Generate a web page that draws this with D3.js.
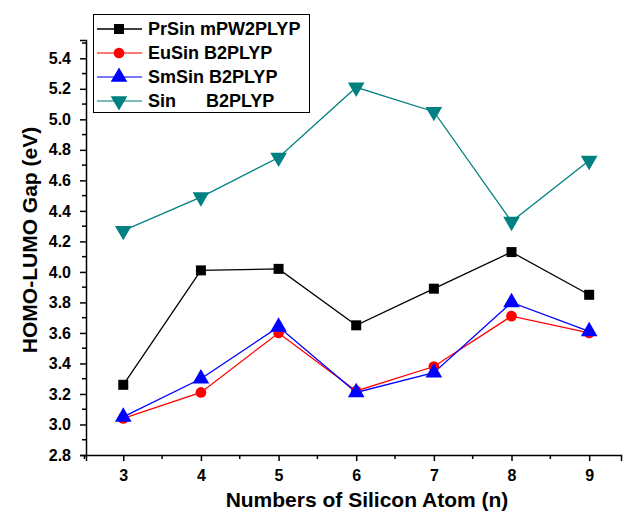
<!DOCTYPE html>
<html><head><meta charset="utf-8">
<script src="https://cdn.jsdelivr.net/npm/d3@7"></script>
<style>body{margin:0;background:#fff}svg{display:block}text{font-family:"Liberation Sans",Arial,sans-serif;font-weight:bold}</style>
</head><body><svg id="c" width="624" height="516"></svg>
<script>
const atoms = [3,4,5,6,7,8,9];
const prSin = [3.26,4.01,4.02,3.65,3.89,4.13,3.85];
const euSin = [3.04,3.21,3.60,3.22,3.38,3.71,3.60];
const smSin = [3.05,3.30,3.64,3.21,3.34,3.80,3.61];
const sin   = [4.27,4.49,4.75,5.21,5.05,4.33,4.73];
const yTicks = [2.8,3.0,3.2,3.4,3.6,3.8,4.0,4.2,4.4,4.6,4.8,5.0,5.2,5.4];
const seriesNames = ["PrSin mPW2PLYP","EuSin B2PLYP","SmSin B2PLYP","Sin      B2PLYP"];
const colors = ["#000000","#ff0000","#0000ff","#008080"];
const symbols = [d3.symbolSquare,d3.symbolCircle,d3.symbolTriangle,d3.symbolTriangle];
const series = [prSin,euSin,smSin,sin];

const svg = d3.select("#c");
const L=86, R=621, T=40, B=455;
const x = d3.scaleLinear().domain([2.52,9.41]).range([L,R]);
const y = d3.scaleLinear().domain([2.8,5.52]).range([B,T]);

// axes
const xAxis = d3.axisBottom(x).tickValues(atoms).tickSize(6).tickPadding(5).tickFormat(d3.format("d"));
const gx = svg.append("g").attr("transform",`translate(0,${B})`).call(xAxis);
gx.select(".domain").attr("stroke-width",1.5);
gx.selectAll("text").attr("font-size",16).attr("dy","0.9em").attr("y",12);
gx.selectAll("line").attr("stroke-width",1.5);
const xMinor=[2.5,3.5,4.5,5.5,6.5,7.5,8.5];
svg.append("g").selectAll("line").data(xMinor).join("line")
  .attr("x1",d=>x(d)).attr("x2",d=>x(d)).attr("y1",B).attr("y2",B+4).attr("stroke","#000").attr("stroke-width",1.5);

const yAxis = d3.axisLeft(y).tickValues(yTicks).tickSize(6).tickPadding(9).tickFormat(d3.format(".1f"));
const gy = svg.append("g").attr("transform",`translate(${L},0)`).call(yAxis);
gy.select(".domain").attr("stroke-width",1.5);
gy.selectAll("text").attr("font-size",16);
gy.selectAll("line").attr("stroke-width",1.5);
const yMinor = yTicks.map(v=>+(v+0.1).toFixed(1));
svg.append("g").selectAll("line").data(yMinor).join("line")
  .attr("x1",L-4).attr("x2",L).attr("y1",d=>y(d)).attr("y2",d=>y(d)).attr("stroke","#000").attr("stroke-width",1.5);

// titles
svg.append("text").attr("x",367).attr("y",507).attr("text-anchor","middle").attr("font-size",21).text("Numbers of Silicon Atom (n)");
svg.append("text").attr("transform",`translate(37,${240}) rotate(-90)`).attr("text-anchor","middle").attr("font-size",21).text("HOMO-LUMO Gap (eV)");

// lines
const line = d3.line().x((d,i)=>x(atoms[i])).y(d=>y(d));
const sizes=[100,90,120,120];
series.forEach((s,k)=>{
  svg.append("path").datum(s).attr("d",line).attr("fill","none").attr("stroke",colors[k]).attr("stroke-width",1.3);
});
series.forEach((s,k)=>{
  svg.append("g").selectAll("path").data(s).join("path")
    .attr("d",d3.symbol().type(symbols[k]).size(sizes[k]))
    .attr("transform",(d,i)=>`translate(${x(atoms[i])},${y(d)})${k===3?" rotate(180)":""}`)
    .attr("fill",colors[k]);
});

// legend
const lg = svg.append("g");
lg.append("rect").attr("x",93.5).attr("y",14.5).attr("width",216).attr("height",98).attr("fill","#fff").attr("stroke","#000").attr("stroke-width",1);
seriesNames.forEach((n,k)=>{
  const yy=29+k*24;
  lg.append("line").attr("x1",97).attr("x2",142).attr("y1",yy).attr("y2",yy).attr("stroke",colors[k]).attr("stroke-width",1.3).attr("opacity",k===0?1:0.7);
  lg.append("path").attr("d",d3.symbol().type(symbols[k]).size(sizes[k]))
    .attr("transform",`translate(119,${yy})${k===3?" rotate(180)":""}`).attr("fill",colors[k]);
  lg.append("text").attr("x",148).attr("y",yy+6).attr("font-size",18).attr("xml:space","preserve").style("white-space","pre").text(n);
});
</script></body></html>
